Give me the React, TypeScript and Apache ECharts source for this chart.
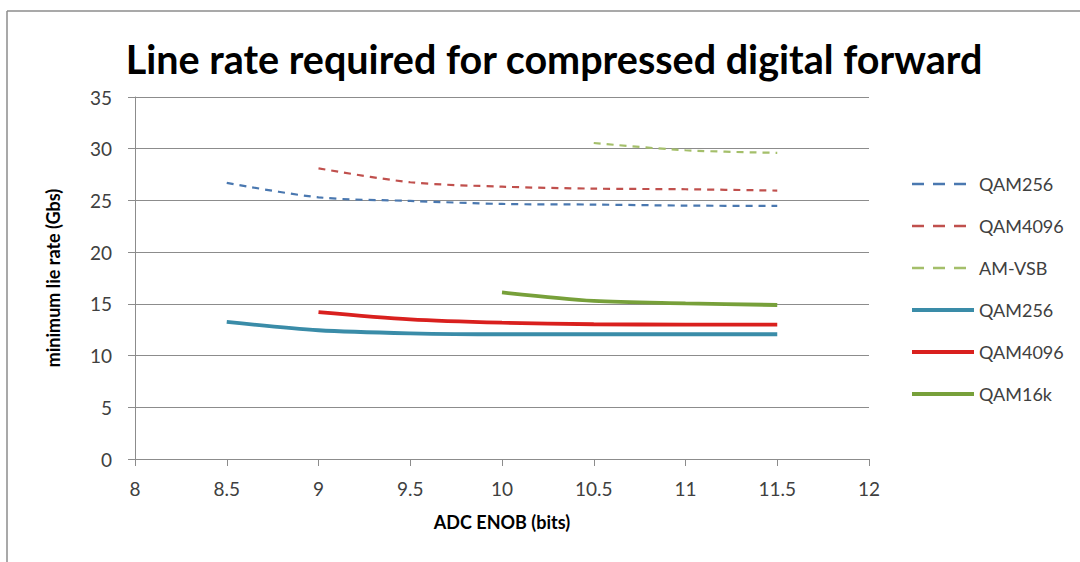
import React, { useEffect, useRef } from "react";
import * as echarts from "echarts";

// ENOB values (bits) for each curve
const enobQam256Dashed = [8.5, 9, 9.5, 10, 10.5, 11, 11.5];
const rateQam256Dashed = [26.7, 25.3, 24.95, 24.66, 24.6, 24.5, 24.47];

const enobQam4096Dashed = [9, 9.5, 10, 10.5, 11, 11.5];
const rateQam4096Dashed = [28.1, 26.76, 26.33, 26.14, 26.08, 25.95];

const enobAmVsbDashed = [10.5, 11, 11.5];
const rateAmVsbDashed = [30.55, 29.85, 29.6];

const enobQam256Solid = [8.5, 9, 9.5, 10, 10.5, 11, 11.5];
const rateQam256Solid = [13.25, 12.45, 12.15, 12.06, 12.06, 12.06, 12.06];

const enobQam4096Solid = [9, 9.5, 10, 10.5, 11, 11.5];
const rateQam4096Solid = [14.2, 13.5, 13.18, 13.03, 13.0, 13.0];

const enobQam16kSolid = [10, 10.5, 11, 11.5];
const rateQam16kSolid = [16.1, 15.28, 15.05, 14.89];

// Legend keys and the text shown for each
const seriesKeys = ["d256", "d4096", "dvsb", "s256", "s4096", "s16k"];
const legendLabels = ["QAM256", "QAM4096", "AM-VSB", "QAM256", "QAM4096", "QAM16k"];
const seriesColors = ["#4a78b0", "#c0504d", "#a4bf6a", "#3a8ca8", "#d9201e", "#77a03a"];

const titleText = "Line rate required for compressed digital forward";
const xAxisName = "ADC ENOB (bits)";
const yAxisName = "minimum lie rate (Gbs)";

const FONT = "Lato, 'Open Sans', sans-serif";

function pairs(xs: number[], ys: number[]) {
  return xs.map((x, i) => [x, ys[i]]);
}

export default function App() {
  const ref = useRef<HTMLDivElement>(null);

  useEffect(() => {
    if (!ref.current) return;
    const chart = echarts.init(ref.current, null, { renderer: "svg" });

    const dashed = (i: number, xs: number[], ys: number[]) => ({
      type: "line",
      name: seriesKeys[i],
      data: pairs(xs, ys),
      showSymbol: false,
      symbol: "none",
      smooth: 0.3,
      lineStyle: { color: seriesColors[i], width: 2.2, type: [7, 6] },
      itemStyle: { color: seriesColors[i] },
    });
    const solid = (i: number, xs: number[], ys: number[]) => ({
      type: "line",
      name: seriesKeys[i],
      data: pairs(xs, ys),
      showSymbol: false,
      symbol: "none",
      smooth: 0.3,
      lineStyle: { color: seriesColors[i], width: 3.8 },
      itemStyle: { color: seriesColors[i] },
    });

    const legendData = seriesKeys.map((key, i) => ({
      name: key,
      itemStyle: { opacity: 0 },
      lineStyle:
        i < 3
          ? { color: seriesColors[i], width: 2.5, type: [12, 9] }
          : { color: seriesColors[i], width: 4, type: "solid" },
    }));

    chart.setOption({
      animation: false,
      backgroundColor: "#ffffff",
      title: {
        text: titleText,
        left: 549,
        top: 33,
        textAlign: "center",
        textStyle: { fontFamily: FONT, fontWeight: "bold", fontSize: 39.5, color: "#000" },
      },
      grid: { left: 135, top: 97, width: 734, height: 362 },
      xAxis: {
        type: "value",
        min: 8,
        max: 12,
        interval: 0.5,
        name: xAxisName,
        nameLocation: "middle",
        nameGap: 54,
        nameTextStyle: { fontFamily: FONT, fontWeight: "bold", fontSize: 18, color: "#000" },
        axisLine: { show: true, lineStyle: { color: "#8c8c8c", width: 1 } },
        axisTick: { show: true, length: 7, lineStyle: { color: "#8c8c8c" } },
        axisLabel: { fontFamily: FONT, fontSize: 19, color: "#404040", margin: 20 },
        splitLine: { show: false },
      },
      yAxis: {
        type: "value",
        min: 0,
        max: 35,
        interval: 5,
        name: yAxisName,
        nameLocation: "middle",
        nameGap: 73,
        nameTextStyle: { fontFamily: FONT, fontWeight: "bold", fontSize: 18, color: "#000" },
        axisLine: { show: true, lineStyle: { color: "#8c8c8c", width: 1 } },
        axisTick: { show: true, inside: false, length: 7, lineStyle: { color: "#8c8c8c" } },
        axisLabel: { fontFamily: FONT, fontSize: 19, color: "#404040", margin: 23 },
        splitLine: { show: true, lineStyle: { color: "#8c8c8c", width: 1 } },
      },
      legend: {
        orient: "vertical",
        left: 905,
        top: 170,
        itemWidth: 62,
        itemHeight: 14,
        itemGap: 24,
        data: legendData,
        formatter: (name: string) => legendLabels[seriesKeys.indexOf(name)],
        textStyle: { fontFamily: FONT, fontSize: 18, color: "#404040" },
        itemStyle: { opacity: 0 },
        selectedMode: false,
      },
      graphic: [
        {
          type: "line",
          shape: { x1: 7, y1: 11, x2: 1080, y2: 11 },
          style: { stroke: "#8c8c8c", lineWidth: 1.5 },
        },
        {
          type: "line",
          shape: { x1: 7, y1: 11, x2: 7, y2: 562 },
          style: { stroke: "#8c8c8c", lineWidth: 1.5 },
        },
      ],
      series: [
        dashed(0, enobQam256Dashed, rateQam256Dashed),
        dashed(1, enobQam4096Dashed, rateQam4096Dashed),
        dashed(2, enobAmVsbDashed, rateAmVsbDashed),
        solid(3, enobQam256Solid, rateQam256Solid),
        solid(4, enobQam4096Solid, rateQam4096Solid),
        solid(5, enobQam16kSolid, rateQam16kSolid),
      ],
    });

    return () => chart.dispose();
  }, []);

  return (
    <div
      ref={ref}
      style={{ position: "fixed", left: 0, top: 0, width: 1080, height: 562 }}
    />
  );
}
